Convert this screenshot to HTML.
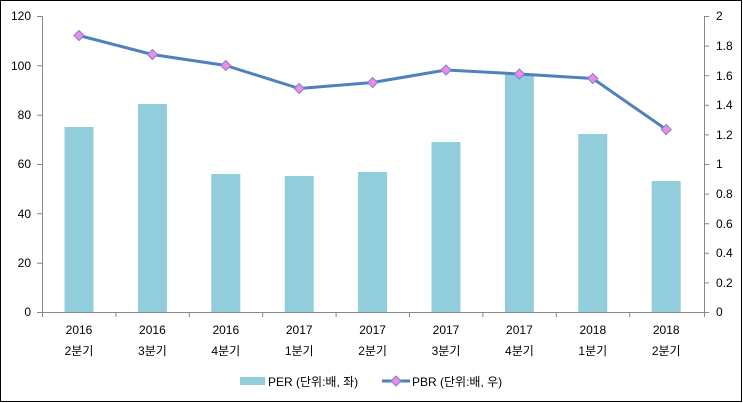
<!DOCTYPE html>
<html><head><meta charset="utf-8"><style>
body{margin:0;background:#fff}
svg{display:block}
text{font-family:"Liberation Sans","Noto Sans CJK KR",sans-serif;font-size:12px;fill:#000}
</style></head><body>
<svg width="743" height="403" xmlns="http://www.w3.org/2000/svg">
<rect x="0.5" y="0.5" width="741" height="401" fill="#fff" stroke="#000" stroke-width="1"/>
<g fill="#92CDDC">
<rect x="64.5" y="127" width="29" height="185"/>
<rect x="137.9" y="104" width="29" height="208"/>
<rect x="211.3" y="174" width="29" height="138"/>
<rect x="284.7" y="176" width="29" height="136"/>
<rect x="358.1" y="172" width="29" height="140"/>
<rect x="431.5" y="142" width="29" height="170"/>
<rect x="504.9" y="74" width="29" height="238"/>
<rect x="578.3" y="134" width="29" height="178"/>
<rect x="651.7" y="181" width="29" height="131"/>
</g>
<g stroke="#868686" stroke-width="1" fill="none">
<path d="M42.5 16V312.5H704.5V16"/>
<path d="M37 16.5H42M37 65.8H42M37 115.2H42M37 164.5H42M37 213.8H42M37 263.2H42M37 312.5H42"/>
<path d="M704 16.5H709M704 46.1H709M704 75.7H709M704 105.3H709M704 134.9H709M704 164.5H709M704 194.1H709M704 223.7H709M704 253.3H709M704 282.9H709M704 312.5H709"/>
<path d="M115.9 312V317M189.3 312V317M262.7 312V317M336.1 312V317M409.5 312V317M482.9 312V317M556.3 312V317M629.7 312V317M42.5 312V317M704.5 312V317"/>
</g>
<g text-anchor="end">
<text x="31" y="20">120</text><text x="31" y="70">100</text><text x="31" y="119">80</text><text x="31" y="168">60</text><text x="31" y="218">40</text><text x="31" y="267">20</text><text x="31" y="316">0</text>
</g>
<g>
<text x="716" y="20">2</text><text x="716" y="50">1.8</text><text x="716" y="80">1.6</text><text x="716" y="109">1.4</text><text x="716" y="139">1.2</text><text x="716" y="168">1</text><text x="716" y="198">0.8</text><text x="716" y="228">0.6</text><text x="716" y="257">0.4</text><text x="716" y="287">0.2</text><text x="716" y="316">0</text>
</g>
<g text-anchor="middle">
<text x="79" y="334">2016</text><text x="79" y="355">2분기</text>
<text x="152.4" y="334">2016</text><text x="152.4" y="355">3분기</text>
<text x="225.8" y="334">2016</text><text x="225.8" y="355">4분기</text>
<text x="299.2" y="334">2017</text><text x="299.2" y="355">1분기</text>
<text x="372.6" y="334">2017</text><text x="372.6" y="355">2분기</text>
<text x="446" y="334">2017</text><text x="446" y="355">3분기</text>
<text x="519.4" y="334">2017</text><text x="519.4" y="355">4분기</text>
<text x="592.8" y="334">2018</text><text x="592.8" y="355">1분기</text>
<text x="666.2" y="334">2018</text><text x="666.2" y="355">2분기</text>
</g>
<polyline fill="none" stroke="#4F81BD" stroke-width="3" stroke-linejoin="round" points="79,35.5 152.4,54.5 225.8,65.5 299.2,88.5 372.6,82.5 446,70 519.4,74 592.8,78.5 666.2,129.5"/>
<g fill="#F08CDC" stroke="#7F7FE0" stroke-width="1">
<path d="M79 30.5l5 5-5 5-5-5z"/><path d="M152.4 49.5l5 5-5 5-5-5z"/><path d="M225.8 60.5l5 5-5 5-5-5z"/><path d="M299.2 83.5l5 5-5 5-5-5z"/><path d="M372.6 77.5l5 5-5 5-5-5z"/><path d="M446 65l5 5-5 5-5-5z"/><path d="M519.4 69l5 5-5 5-5-5z"/><path d="M592.8 73.5l5 5-5 5-5-5z"/><path d="M666.2 124.5l5 5-5 5-5-5z"/>
</g>
<rect x="240" y="377" width="25" height="8" fill="#92CDDC"/>
<text x="268" y="386">PER (단위:배, 좌)</text>
<line x1="382" y1="381" x2="410" y2="381" stroke="#4F81BD" stroke-width="3"/>
<path d="M396 376l5 5-5 5-5-5z" fill="#F08CDC" stroke="#7F7FE0"/>
<text x="412" y="386">PBR (단위:배, 우)</text>
</svg>
</body></html>
